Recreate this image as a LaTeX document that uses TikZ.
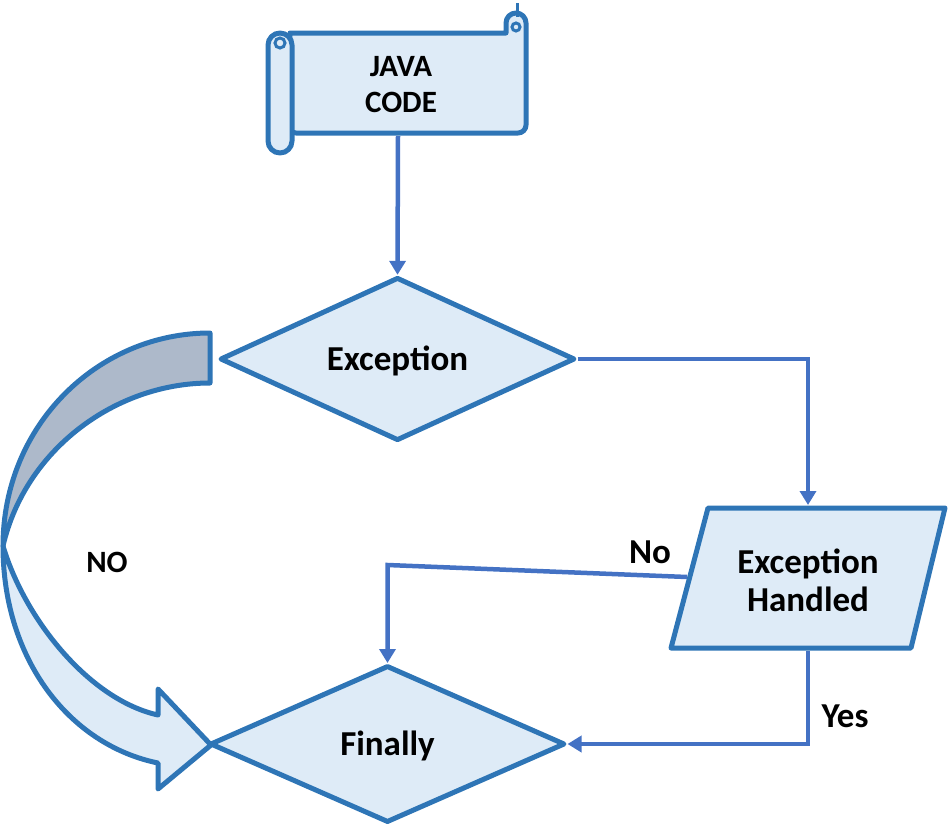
\documentclass[tikz,border=0pt]{standalone}
\usepackage{fontspec}
\setmainfont{Carlito}
\usetikzlibrary{arrows.meta,shapes.geometric}
\definecolor{edgeblue}{RGB}{46,117,182}
\definecolor{connblue}{RGB}{68,114,196}
\definecolor{lightfill}{RGB}{222,235,247}
\definecolor{greyfill}{RGB}{173,185,202}
\begin{document}
\begin{tikzpicture}[x=1pt,y=-1pt,
  outline/.style={draw=edgeblue,line width=5pt,fill=lightfill,line join=round},
  connector/.style={draw=connblue,line width=4.5pt,-{Triangle[length=14pt,width=16pt]}},
  diam/.style={diamond,outline,minimum width=355pt,minimum height=155pt,inner sep=0pt,
    text height=22pt,text depth=0pt},
  txt/.style={font=\bfseries\fontsize{35}{38}\selectfont,align=center,text=black},
  smalltxt/.style={font=\bfseries\fontsize{31}{36}\selectfont,align=center,text=black}]
\useasboundingbox (0,0) rectangle (948,827);

% scroll (JAVA CODE)
\draw[outline] (290,33) -- (506,33) -- (506,23) arc[start angle=180,end angle=360,radius=10]
  {[rounded corners=8pt] -- (526,133) -- (288,133)} -- cycle;
\draw[outline,rounded corners=12pt] (268,33) rectangle (292,153);
\draw[draw=edgeblue,line width=3pt,fill=lightfill] (280,43) circle[radius=5];
\draw[draw=edgeblue,line width=3pt,fill=lightfill] (516,27) circle[radius=4];
\draw[edgeblue,line width=3pt] (517,17) -- (517,3);
\node[smalltxt] (code) at (401,85) {JAVA\\CODE};
\coordinate (codeb) at (398,136);

% curved NO arrow
\draw[outline,fill=greyfill] (210,333) .. controls (98,333) and (3,425) .. (3,546)
  .. controls (25,450) and (115,383) .. (210,383) -- cycle;
\draw[outline] (3,546) .. controls (25,620) and (90,700) .. (158,715) -- (158,689)
  -- (211,745) -- (158,789) -- (158,763) .. controls (70,745) and (3,660) .. (3,546) -- cycle;
\node[font=\bfseries\fontsize{31}{34}\selectfont,text=black] (nobig) at (107,562) {NO};

% decisions
\node[diam,txt] (exc) at (397.5,359) {Exception};
\node[diam,txt,minimum height=157pt] (fin) at (387.5,744) {Finally};

% parallelogram
\coordinate (p1) at (708,508);
\coordinate (p2) at (945,508);
\coordinate (p3) at (911,648);
\coordinate (p4) at (671,648);
\draw[outline] (p1) -- (p2) -- (p3) -- (p4) -- cycle;
\node[txt] (hand) at (808,580) {Exception\\Handled};
\coordinate (handn) at (808,505);
\coordinate (hands) at (808,651);
\coordinate (handw) at (687,577);
\coordinate (nobend) at (387.5,565);

% connectors
\draw[connector] (codeb) -- (exc.north);
\draw[connector] (exc.east) -| (handn);
\draw[connector] (handw) -- (nobend) -- (fin.north);
\draw[connector] (hands) |- (fin.east);

% labels
\node[txt] (nolbl) at (650,552) {No};
\node[txt] (yeslbl) at (845,716) {Yes};
\end{tikzpicture}
\end{document}
